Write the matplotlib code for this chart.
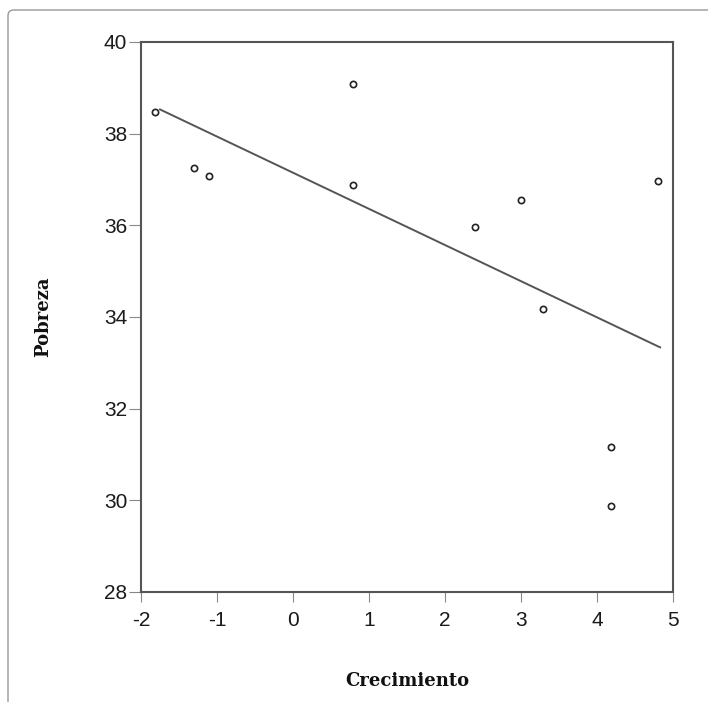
#!/usr/bin/env python3

import numpy as np
import matplotlib
matplotlib.use("Agg")
import matplotlib.pyplot as plt
from matplotlib.patches import FancyBboxPatch

# ===================== DATOS =====================

crecimiento = [-1.82, -1.30, -1.10, 0.79, 0.79, 2.39, 3.00, 3.29, 4.80, 4.19, 4.19]
pobreza = [38.47, 37.26, 37.07, 39.08, 36.87, 35.96, 36.56, 34.17, 36.97, 31.17, 29.88]

x_ticks = [-2, -1, 0, 1, 2, 3, 4, 5]
y_ticks = [28, 30, 32, 34, 36, 38, 40]

# ===================== GRÁFICO =====================

fig = plt.figure(figsize=(7.08, 7.02), dpi=100)
ax = fig.add_axes([0.1992, 0.1567, 0.7514, 0.7835])

x = np.array(crecimiento)
y = np.array(pobreza)

# recta de regresión
b, a = np.polyfit(x, y, 1)
xl = np.array([-1.75, x.max() + 0.03])
ax.plot(xl, a + b * xl, color="#555555", lw=1.4, zorder=2)

# puntos
ax.plot(x, y, "o", ms=4.5, mfc="white", mec="#222222", mew=1.2, zorder=3)

ax.set_xlim(-2, 5)
ax.set_ylim(28, 40)
ax.set_xticks(x_ticks)
ax.set_yticks(y_ticks)
ax.set_xticklabels([str(t) for t in x_ticks])
ax.set_yticklabels([str(t) for t in y_ticks])

for s in ax.spines.values():
    s.set_color("#555555")
    s.set_linewidth(1.5)

ax.tick_params(axis="y", direction="out", length=9, width=0.8, color="#888888",
               pad=1, labelsize=15, labelcolor="#1a1a1a")
ax.tick_params(axis="x", direction="out", length=7, width=0.8, color="#888888",
               pad=7, labelsize=15, labelcolor="#1a1a1a")
for lab in ax.get_xticklabels() + ax.get_yticklabels():
    lab.set_family("Liberation Sans")

ax.set_xlabel("Crecimiento", family="DejaVu Serif", weight="bold", fontsize=13,
              labelpad=30, color="#111111")
ax.set_ylabel("Pobreza", family="DejaVu Serif", weight="bold", fontsize=13,
              labelpad=37, color="#111111")

# marco exterior de la página
frame = FancyBboxPatch((8 / 708, -0.1), 1.2, 1.1 - 10 / 702,
                       boxstyle="round,pad=0,rounding_size=0.008",
                       transform=fig.transFigure, fill=False,
                       edgecolor="#999999", lw=1.0)
fig.add_artist(frame)

fig.savefig("out.png", dpi=100)
